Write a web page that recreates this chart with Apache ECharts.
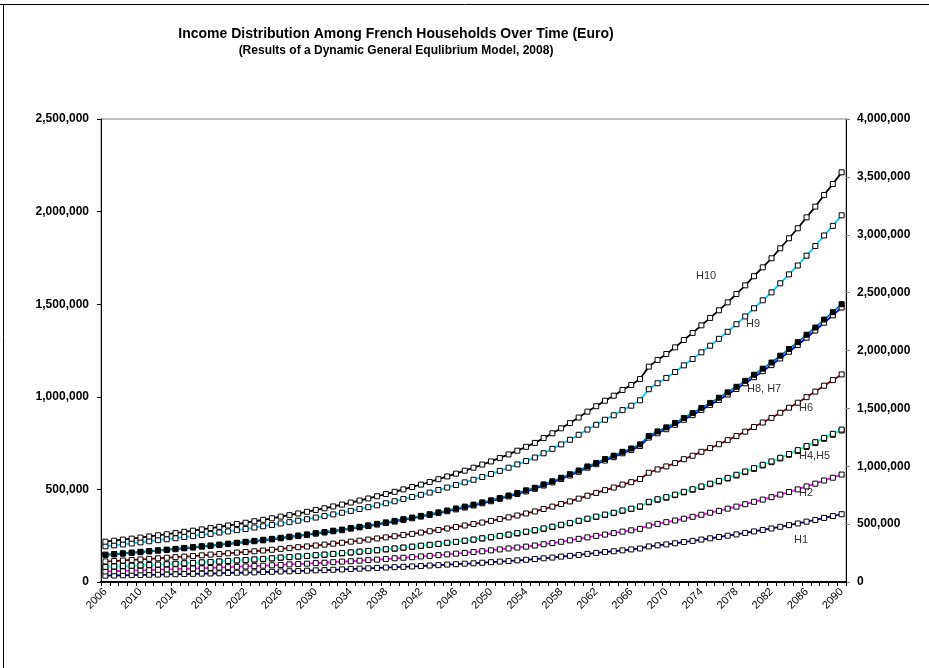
<!DOCTYPE html>
<html><head><meta charset="utf-8">
<script src="https://cdn.jsdelivr.net/npm/echarts@6/dist/echarts.min.js"></script>
<style>html,body{margin:0;padding:0;background:#fff}#c{width:929px;height:668px}</style>
</head><body><div id="c"></div>
<script>
// Values in thousand euro
const years = ['2006','2007','2008','2009','2010','2011','2012','2013','2014','2015','2016','2017','2018','2019','2020','2021','2022','2023','2024','2025','2026','2027','2028','2029','2030','2031','2032','2033','2034','2035','2036','2037','2038','2039','2040','2041','2042','2043','2044','2045','2046','2047','2048','2049','2050','2051','2052','2053','2054','2055','2056','2057','2058','2059','2060','2061','2062','2063','2064','2065','2066','2067','2068','2069','2070','2071','2072','2073','2074','2075','2076','2077','2078','2079','2080','2081','2082','2083','2084','2085','2086','2087','2088','2089','2090'];

const h10 = [218,223,229,234,240,246,252,258,264,271,277,284,291,298,305,313,320,328,336,344,353,361,370,379,389,398,408,418,429,440,451,463,475,487,500,513,526,540,555,570,585,601,617,634,651,670,689,709,730,751,777,803,830,858,888,920,949,979,1006,1037,1064,1096,1163,1199,1231,1267,1307,1345,1386,1426,1467,1510,1555,1602,1651,1699,1748,1802,1856,1910,1969,2027,2090,2149,2212];
const h9 = [193,198,203,208,214,220,226,231,236,243,248,254,260,267,273,280,286,294,301,308,316,323,331,339,348,356,365,374,384,394,404,414,425,436,448,459,471,483,497,510,524,538,552,567,583,600,617,635,653,672,695,719,743,768,795,823,849,876,900,928,952,981,1041,1073,1102,1134,1170,1204,1240,1276,1313,1351,1392,1434,1478,1521,1564,1613,1661,1709,1762,1814,1871,1923,1980];
const h8 = [148,151,155,159,163,167,171,175,179,184,188,193,197,202,207,212,217,222,228,233,239,245,251,257,264,270,277,283,291,298,306,314,322,330,339,348,357,366,376,386,397,407,418,430,441,454,467,481,495,509,527,544,563,582,602,624,643,664,682,703,721,743,789,813,835,859,886,912,940,967,995,1024,1054,1086,1119,1152,1185,1222,1258,1295,1335,1374,1417,1457,1500];
const h7 = [146,149,153,157,161,165,169,173,177,182,186,191,195,200,205,210,215,220,225,230,236,242,248,254,261,267,274,280,288,295,302,310,318,326,335,344,353,362,372,382,392,402,413,425,436,449,462,475,489,503,521,538,556,575,595,617,636,656,674,695,713,734,780,803,825,849,876,901,929,956,983,1012,1042,1073,1106,1138,1171,1207,1243,1280,1319,1358,1400,1440,1482];
const h6 = [111,113,116,119,122,125,128,131,134,137,140,144,148,151,155,159,162,166,170,174,179,183,188,192,197,202,207,212,218,223,229,235,241,247,254,260,267,274,281,289,297,305,313,321,330,340,349,359,370,381,394,407,421,435,450,466,481,496,510,526,539,556,590,608,624,642,663,682,703,723,744,766,788,812,837,861,886,914,941,968,998,1028,1060,1090,1121];
const h5 = [82,84,86,88,90,92,94,96,98,101,103,106,108,111,114,117,119,122,125,128,132,135,138,141,145,148,152,156,160,164,168,172,177,181,186,191,196,201,206,212,217,223,229,236,242,249,256,264,272,280,289,299,309,319,331,342,353,364,374,386,396,408,433,447,458,472,487,501,516,531,546,562,579,597,615,633,651,671,691,712,734,755,778,800,823];
const h4 = [81,83,85,87,89,91,93,95,98,100,102,105,108,110,113,116,118,121,124,127,131,134,137,140,144,147,151,155,159,163,167,171,176,180,185,190,195,200,205,211,216,222,228,235,241,248,255,262,270,278,287,297,307,317,329,340,351,362,372,384,394,406,430,444,455,469,484,498,513,528,543,559,575,593,611,629,647,667,687,707,729,750,773,795,818];
const h2 = [57,58,60,61,63,64,66,68,69,71,73,74,76,78,80,82,84,86,88,90,92,95,97,99,102,104,107,110,112,115,118,121,124,128,131,134,138,141,145,149,153,157,162,166,171,176,181,186,191,197,204,210,217,225,233,241,249,256,264,272,279,287,305,314,323,332,342,352,363,374,384,396,407,420,433,445,458,472,486,500,516,531,548,563,580];
const h1 = [34,35,36,37,38,39,40,41,42,43,44,45,46,47,49,50,51,52,54,55,57,58,59,61,63,64,66,68,70,72,74,76,78,80,82,84,86,89,91,94,96,99,101,104,107,110,113,117,120,124,128,132,137,141,146,152,157,162,166,171,176,181,192,198,203,209,216,222,229,236,243,250,257,265,273,281,289,298,307,316,326,335,346,356,366];

const seriesNames = ['H1','H2','H4','H5','H6','H7','H8','H9','H10'];
const seriesValues = [h1, h2, h4, h5, h6, h7, h8, h9, h10];
const lineColors = ['#000080','#FF00FF','#FFFF00','#00FFFF','#800000','#0000FF','#008080','#00CCFF','#000000'];
const markerFills = ['#ffffff','#ffffff','#ffffff','#ffffff','#ffffff','#ffffff','#000000','#ffffff','#ffffff'];

const leftTickLabels = ['0','500,000','1,000,000','1,500,000','2,000,000','2,500,000'];
const rightTickLabels = ['0','500,000','1,000,000','1,500,000','2,000,000','2,500,000','3,000,000','3,500,000','4,000,000'];

const FONT = 'Liberation Sans, Arial, sans-serif';
const chart = echarts.init(document.getElementById('c'), null, {renderer: 'canvas'});

const series = seriesNames.map((n, i) => ({
  name: n, type: 'line', yAxisIndex: 0, data: seriesValues[i],
  symbol: 'rect', symbolSize: 5, showSymbol: true,
  lineStyle: {color: lineColors[i], width: 1.8},
  itemStyle: {color: markerFills[i], borderColor: '#000', borderWidth: 1},
  emphasis: {disabled: true}, z: 2 + i
}));

const lab = (t, x, y) => ({type: 'text', left: x, top: y, style: {text: t, font: '11px ' + FONT, fill: '#333'}});

chart.setOption({
  animation: false,
  backgroundColor: '#fff',
  grid: {left: 101, right: 83, top: 119, bottom: 86, show: true, borderColor: '#808080', borderWidth: 1},
  xAxis: {
    type: 'category', data: years, boundaryGap: true,
    axisLine: {lineStyle: {color: '#000', width: 2}},
    axisTick: {show: true, interval: 0, length: 4, lineStyle: {color: '#000'}},
    axisLabel: {interval: 3, rotate: 45, fontFamily: FONT, fontSize: 11, color: '#000', margin: 8},
    splitLine: {show: false}
  },
  yAxis: [
    {type: 'value', position: 'left', min: 0, max: 2500, interval: 500,
     axisLine: {show: true, lineStyle: {color: '#000', width: 1}},
     axisTick: {show: true, length: 4, lineStyle: {color: '#000'}},
     axisLabel: {fontFamily: FONT, fontSize: 12, fontWeight: 'bold', color: '#000', margin: 12,
       formatter: v => leftTickLabels[Math.round(v / 500)]},
     splitLine: {show: false}},
    {type: 'value', position: 'right', min: 0, max: 4000, interval: 500,
     axisLine: {show: true, lineStyle: {color: '#000', width: 1}},
     axisTick: {show: true, length: 4, lineStyle: {color: '#808080'}},
     axisLabel: {fontFamily: FONT, fontSize: 12, fontWeight: 'bold', color: '#000', margin: 11,
       formatter: v => rightTickLabels[Math.round(v / 500)]},
     splitLine: {show: false}}
  ],
  series: series,
  graphic: [
    {type: 'line', shape: {x1: 0, y1: 4.5, x2: 929, y2: 4.5}, style: {stroke: '#000', lineWidth: 1}},
    {type: 'line', shape: {x1: 3.5, y1: 4.5, x2: 3.5, y2: 668}, style: {stroke: '#000', lineWidth: 1}},
    {type: 'text', x: 396, y: 27, style: {text: 'Income Distribution Among French Households Over Time (Euro)', font: 'bold 14px ' + FONT, fill: '#000', textAlign: 'center'}},
    {type: 'text', x: 396, y: 45, style: {text: '(Results of a Dynamic General Equlibrium Model, 2008)', font: 'bold 12px ' + FONT, fill: '#000', textAlign: 'center'}},
    lab('H10', 696, 270),
    lab('H9', 746, 318),
    lab('H8, H7', 747, 383),
    lab('H6', 799, 402),
    lab('H4,H5', 799, 450),
    lab('H2', 799, 487),
    lab('H1', 794, 534)
  ]
});
</script>
</body></html>
